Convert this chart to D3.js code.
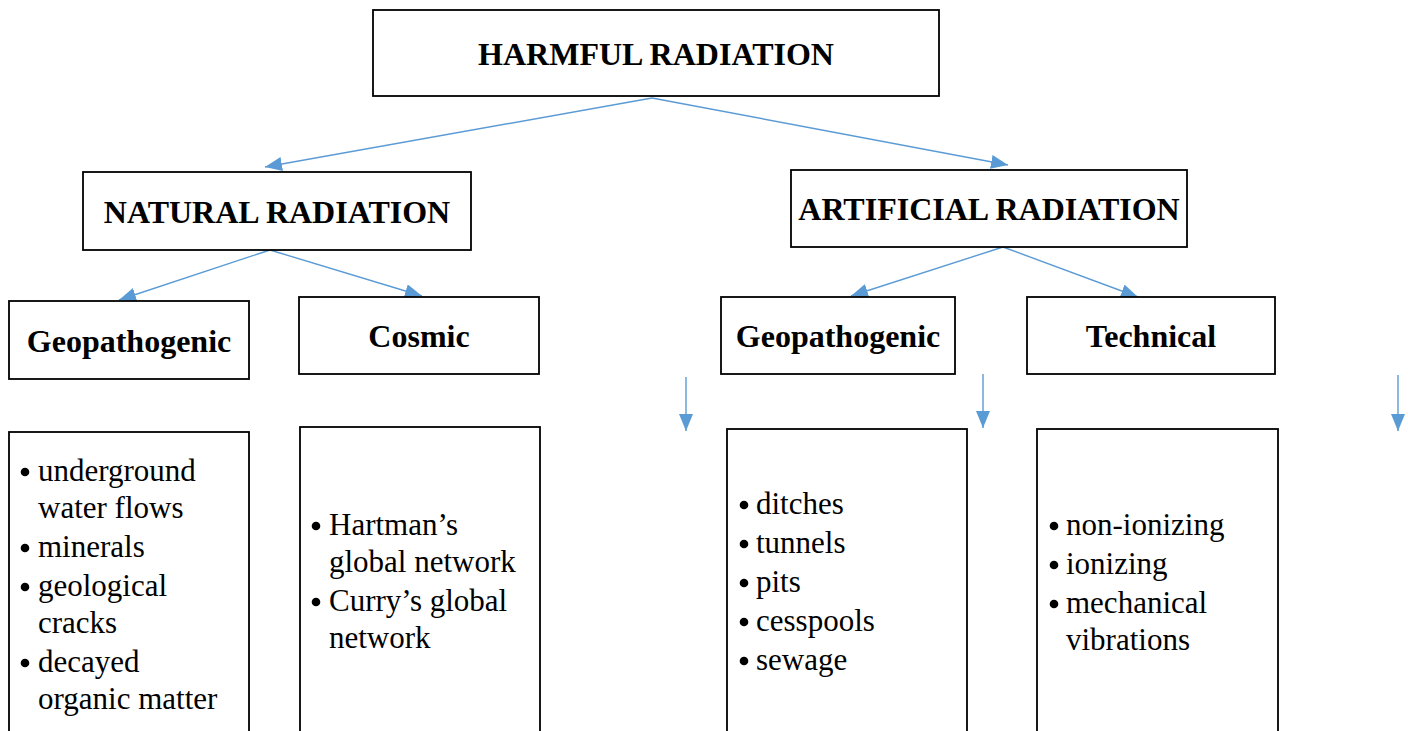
<!DOCTYPE html>
<html lang="en">
<head>
  <meta charset="UTF-8" />
  <title>Harmful Radiation</title>
  <style>
    body { margin: 0; background: #fff; }
    .box { fill: #fff; stroke: #000; stroke-width: 1.8px; }
    .head { font: bold 32px "Liberation Serif", "Times New Roman", serif; fill: #000; }
    .item { font: 31px "Liberation Serif", "Times New Roman", serif; fill: #000; }
    .link { fill: none; stroke: #5b9bd5; stroke-width: 1.4px; }
  </style>
  <script src="https://d3js.org/d3.v7.min.js"></script>
</head>
<body>
  <div id="chart"></div>
  <script type="text/javascript">
    // data
    const rootLabel = "HARMFUL RADIATION";
    const groups = ["NATURAL RADIATION", "ARTIFICIAL RADIATION"];
    const kinds = ["Geopathogenic", "Cosmic", "Geopathogenic", "Technical"];
    const kindGroup = [0, 0, 1, 1];
    const lists = [
      [["underground", "water flows"], ["minerals"], ["geological", "cracks"], ["decayed", "organic matter"]],
      [["Hartman\u2019s", "global network"], ["Curry\u2019s global", "network"]],
      [["ditches"], ["tunnels"], ["pits"], ["cesspools"], ["sewage"]],
      [["non-ionizing"], ["ionizing"], ["mechanical", "vibrations"]]
    ];

    // layout
    const W = 1408, H = 731;
    const rootBox = { x: 373, y: 10, w: 566, h: 86 };
    const groupBoxes = [
      { x: 83, y: 172, w: 388, h: 78, tip: -12 },
      { x: 791, y: 170, w: 396, h: 77, tip: 19 }
    ];
    const kindBoxes = [
      { x: 9, y: 301, w: 240, h: 78, tip: -10 },
      { x: 299, y: 297, w: 240, h: 77, tip: 3 },
      { x: 721, y: 297, w: 234, h: 77, tip: 13 },
      { x: 1027, y: 297, w: 248, h: 77, tip: -13 }
    ];
    const listBoxes = [
      { x: 9, y: 432, w: 240, first: 481, pad: 16 },
      { x: 300, y: 427, w: 240, first: 535, pad: 16 },
      { x: 727, y: 429, w: 240, first: 514, pad: 17 },
      { x: 1037, y: 429, w: 241, first: 535, pad: 17 }
    ];
    const dropArrows = [{ x: 686, y1: 377, y2: 431 }, { x: 983, y1: 374, y2: 428 }, { x: 1398, y1: 375, y2: 431 }];
    const wrapStep = 37, itemStep = 39, textIndent = 29;

    const svg = d3.select("#chart").append("svg")
      .attr("width", W)
      .attr("height", H);

    svg.append("defs").append("marker")
      .attr("id", "arrow")
      .attr("markerUnits", "userSpaceOnUse")
      .attr("viewBox", "0 0 17 14")
      .attr("refX", 17)
      .attr("refY", 7)
      .attr("markerWidth", 17)
      .attr("markerHeight", 14)
      .attr("orient", "auto")
      .append("path")
      .attr("d", "M0,0L17,7L0,14Z")
      .attr("fill", "#5b9bd5");

    function drawLink(x1, y1, x2, y2) {
      svg.append("path")
        .attr("class", "link")
        .attr("d", d3.line()([[x1, y1], [x2, y2]]))
        .attr("marker-end", "url(#arrow)");
    }

    function headBox(b, label) {
      svg.append("rect").attr("class", "box")
        .attr("x", b.x).attr("y", b.y).attr("width", b.w).attr("height", b.h);
      svg.append("text").attr("class", "head")
        .attr("x", b.x + b.w / 2)
        .attr("y", b.y + b.h / 2 + 11.5)
        .attr("text-anchor", "middle")
        .text(label);
    }

    // links
    groupBoxes.forEach(b => {
      drawLink(rootBox.x + rootBox.w / 2 - 4, rootBox.y + rootBox.h + 2, b.x + b.w / 2 + b.tip, b.y - 5);
    });
    kindBoxes.forEach((b, i) => {
      const p = groupBoxes[kindGroup[i]];
      drawLink(p.x + p.w / 2 - (kindGroup[i] ? -14 : 7), p.y + p.h, b.x + b.w / 2 + b.tip, b.y - (i === 3 ? 0 : 1));
    });
    dropArrows.forEach(a => drawLink(a.x, a.y1, a.x, a.y2));

    // boxes
    headBox(rootBox, rootLabel);
    groupBoxes.forEach((b, i) => headBox(b, groups[i]));
    kindBoxes.forEach((b, i) => headBox(b, kinds[i]));

    listBoxes.forEach((b, i) => {
      svg.append("rect").attr("class", "box")
        .attr("x", b.x).attr("y", b.y).attr("width", b.w).attr("height", H - b.y + 20);
      let y = b.first;
      lists[i].forEach(item => {
        svg.append("circle")
          .attr("cx", b.x + b.pad)
          .attr("cy", y - 9)
          .attr("r", 4.3)
          .attr("fill", "#000");
        item.forEach((line, j) => {
          if (j > 0) y += wrapStep;
          svg.append("text").attr("class", "item")
            .attr("x", b.x + textIndent)
            .attr("y", y)
            .text(line);
        });
        y += itemStep;
      });
    });
  </script>
</body>
</html>
